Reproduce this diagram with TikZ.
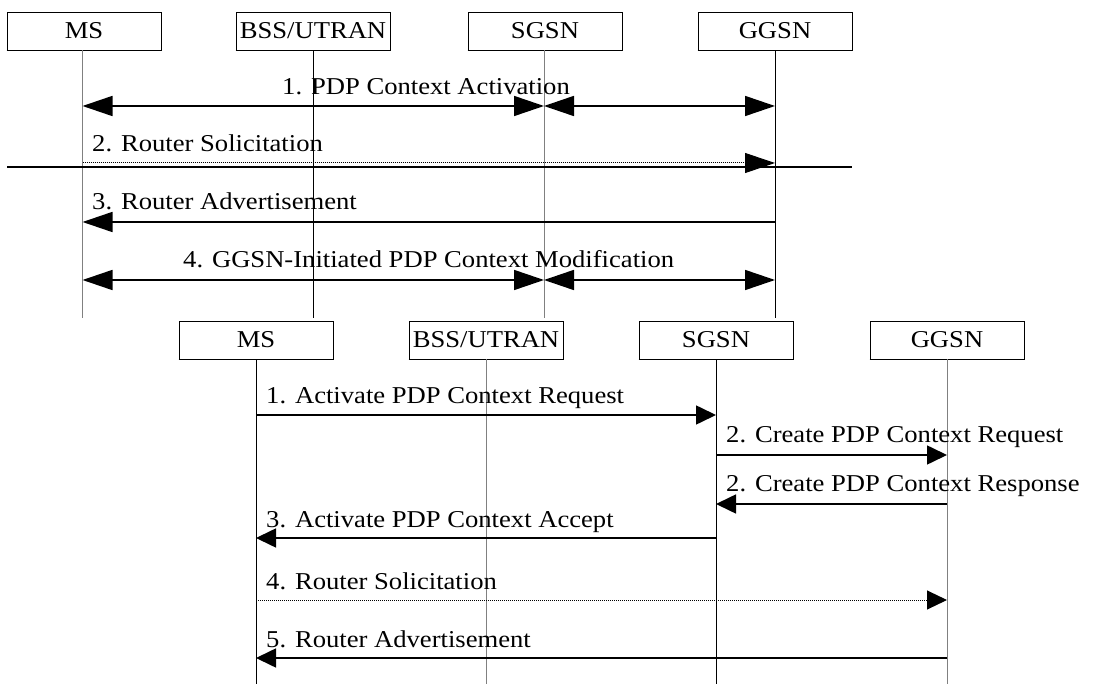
\documentclass[tikz,border=0pt]{standalone}
\usepackage{fontspec}
\setmainfont{Liberation Serif}[FakeStretch=1.1]
\usetikzlibrary{arrows.meta}
\begin{document}
\begin{tikzpicture}[x=1pt,y=-1pt,
  font=\fontsize{24.2}{28}\selectfont,
  box/.style={draw, line width=0.9pt, minimum width=154pt, minimum height=38pt,
    inner sep=0pt, text height=16pt, text depth=0pt, fill=white},
  lifek/.style={line width=1pt, draw=black},
  lifeg/.style={line width=1pt, draw=black!50},
  lbl/.style={anchor=base west, inner sep=0pt},
  tipT/.tip={Triangle[length=30pt,width=20pt]},
  tipB/.tip={Triangle[length=20pt,width=19pt]},
  msgT/.style={line width=1.6pt, -tipT},
  dblT/.style={line width=1.6pt, tipT-tipT},
  dotT/.style={line width=1pt, dash pattern=on 1pt off 1pt, -tipT},
  msgB/.style={line width=1.6pt, -tipB},
  dotB/.style={line width=1pt, dash pattern=on 1pt off 1pt, -tipB}
]
\useasboundingbox (0,0) rectangle (1109,684);

% ---------- upper chart ----------
\node[box] (tMS)  at (84,31)  {MS};
\node[box] (tBSS) at (313,31) {BSS/UTRAN};
\node[box] (tSG)  at (545,31) {SGSN};
\node[box] (tGG)  at (775,31) {GGSN};
\foreach \n in {tMS,tBSS,tSG,tGG}
  \draw[line width=1.6pt] (\n.south west) -- (\n.south east) -- (\n.north east);

\coordinate (tMSe)  at (82.5,318);
\coordinate (tBSSe) at (313,318);
\coordinate (tSGe)  at (544,318);
\coordinate (tGGe)  at (775,318);
\draw[lifeg] (tMSe |- tMS.south) -- (tMSe);
\draw[lifek] (tBSSe |- tBSS.south) -- (tBSSe);
\draw[lifeg] (tSGe |- tSG.south) -- (tSGe);
\draw[lifek] (tGGe |- tGG.south) -- (tGGe);

\foreach \y/\k in {106/a, 163/b, 222/c, 280/d} {
  \coordinate (tMS\k) at (tMSe |- 0,\y);
  \coordinate (tSG\k) at (tSGe |- 0,\y);
  \coordinate (tGG\k) at (tGGe |- 0,\y);
}
\draw[dblT] (tMSa) -- (tSGa);
\draw[dblT] (tSGa) -- (tGGa);
\node[lbl] (tl1) at (282,95) {1. PDP Context Activation};

\draw[dotT] (tMSb) -- (tGGb);
\coordinate (cutL) at (7,167);
\coordinate (cutR) at (852,167);
\draw[line width=2pt] (cutL) -- (cutR);
\node[lbl] (tl2) at (92,152) {2. Router Solicitation};

\draw[msgT] (tGGc) -- (tMSc);
\node[lbl] (tl3) at (92,210) {3. Router Advertisement};

\draw[dblT] (tMSd) -- (tSGd);
\draw[dblT] (tSGd) -- (tGGd);
\node[lbl] (tl4) at (183,268) {4. GGSN-Initiated PDP Context Modification};

% ---------- lower chart ----------
\node[box] (bMS)  at (256,340) {MS};
\node[box] (bBSS) at (486,340) {BSS/UTRAN};
\node[box] (bSG)  at (716,340) {SGSN};
\node[box] (bGG)  at (947,340) {GGSN};
\foreach \n in {bMS,bBSS,bSG,bGG}
  \draw[line width=1.6pt] (\n.south west) -- (\n.south east) -- (\n.north east);

\coordinate (bMSe)  at (256,684);
\coordinate (bBSSe) at (486,684);
\coordinate (bSGe)  at (716,684);
\coordinate (bGGe)  at (947,684);
\draw[lifek] (bMS.south) -- (bMSe);
\draw[lifeg] (bBSS.south) -- (bBSSe);
\draw[lifek] (bSG.south) -- (bSGe);
\draw[lifeg] (bGG.south) -- (bGGe);

\foreach \y/\k in {415/a, 455/b, 504/c, 538/d, 600/e, 658/f} {
  \coordinate (bMS\k) at (bMSe |- 0,\y);
  \coordinate (bSG\k) at (bSGe |- 0,\y);
  \coordinate (bGG\k) at (bGGe |- 0,\y);
}
\draw[msgB] (bMSa) -- (bSGa);
\node[lbl] (bl1) at (266,404) {1. Activate PDP Context Request};
\draw[msgB] (bSGb) -- (bGGb);
\node[lbl] (bl2) at (726,443) {2. Create PDP Context Request};
\draw[msgB] (bGGc) -- (bSGc);
\node[lbl] (bl2b) at (726,492) {2. Create PDP Context Response};
\draw[msgB] (bSGd) -- (bMSd);
\node[lbl] (bl3) at (266,527) {3. Activate PDP Context Accept};
\draw[dotB] (bMSe) -- (bGGe);
\node[lbl] (bl4) at (266,589) {4. Router Solicitation};
\draw[msgB] (bGGf) -- (bMSf);
\node[lbl] (bl5) at (266,647) {5. Router Advertisement};
\end{tikzpicture}
\end{document}
